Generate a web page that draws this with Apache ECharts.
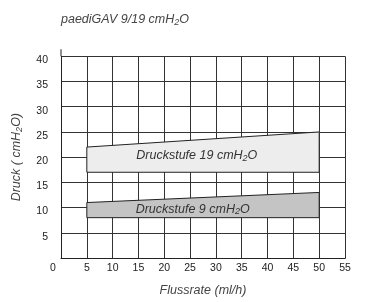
<!DOCTYPE html>
<html><head><meta charset="utf-8">
<script src="https://cdn.jsdelivr.net/npm/echarts@6/dist/echarts.min.js"></script>
<style>html,body{margin:0;padding:0;background:#fff}#c{width:376px;height:302px}</style>
</head><body><div id="c"></div>
<script>
const titleText = 'paediGAV 9/19 cmH{sub|2}O';
const xAxisName = 'Flussrate (ml/h)';
const yAxisName = 'Druck ( cmH{sub|2}O)';
const bandLabels = ['Druckstufe 19 cmH{sub|2}O', 'Druckstufe 9 cmH{sub|2}O'];
const bandXStart = [5, 5];
const bandXEnd = [50, 50];
const bandBottom = [17, 8];
const bandTopStart = [22, 11];
const bandTopEnd = [25, 13];
const bandLabelX = [26.3, 25.5];
const bandLabelY = [20.3, 9.7];
const bandFill = ['#ededed', '#c4c4c4'];
const xMin = 0, xMax = 55, xStep = 5;
const yMin = 0, yMax = 40, yStep = 5;
const xAxisStub = [[55, 0], [57, 0]];
const yAxisStub = [[0, 40], [0, 41.4]];

const FONT = '"Liberation Sans", Arial, Helvetica, sans-serif';
const subRich = (size) => ({ sub: { fontSize: size * 0.72, fontStyle: 'italic', fontFamily: FONT, color: '#444', padding: [size * 0.45, 0, 0, 0] } });

const chart = echarts.init(document.getElementById('c'), null, { renderer: 'canvas' });
chart.setOption({
  animation: false,
  backgroundColor: '#fff',
  title: {
    text: titleText, left: 56, top: 7,
    textStyle: { fontFamily: FONT, fontStyle: 'italic', fontWeight: 'normal', fontSize: 12.5, color: '#444', rich: subRich(12.5) }
  },
  grid: { left: 61, right: 31, top: 56.3, bottom: 39.3, containLabel: false },
  xAxis: {
    type: 'value', min: xMin, max: xMax, interval: xStep,
    name: xAxisName, nameLocation: 'middle', nameGap: 26,
    nameTextStyle: { fontFamily: FONT, fontStyle: 'italic', fontSize: 12.5, color: '#444' },
    axisLine: { show: true, lineStyle: { color: '#222', width: 1 } },
    axisTick: { show: false },
    axisLabel: {
      margin: 5, fontFamily: FONT, fontSize: 10.5, color: '#222',
      formatter: v => v === 0 ? '{z|0}' : String(v),
      rich: { z: { padding: [0, 16, 0, 0], fontFamily: FONT, fontSize: 10.5, color: '#222' } }
    },
    splitLine: { show: true, lineStyle: { color: '#333', width: 1 } }
  },
  yAxis: {
    type: 'value', min: yMin, max: yMax, interval: yStep,
    name: yAxisName, nameLocation: 'middle', nameGap: 37,
    nameTextStyle: { fontFamily: FONT, fontStyle: 'italic', fontSize: 12.5, color: '#444', rich: subRich(12.5) },
    axisLine: { show: true, lineStyle: { color: '#222', width: 1 } },
    axisTick: { show: false },
    axisLabel: { margin: 13, verticalAlign: 'top', lineHeight: 8, fontFamily: FONT, fontSize: 10.5, color: '#222', formatter: v => v === 0 ? '' : String(v) },
    splitLine: { show: true, lineStyle: { color: '#333', width: 1 } }
  },
  series: [
    {
      type: 'custom',
      data: bandLabels.map((_, i) => [bandXStart[i], bandXEnd[i], bandBottom[i], bandTopStart[i], bandTopEnd[i], bandLabelX[i], bandLabelY[i]]),
      renderItem: function (params, api) {
        const i = params.dataIndex;
        const p1 = api.coord([api.value(0), api.value(2)]);
        const p2 = api.coord([api.value(1), api.value(2)]);
        const p3 = api.coord([api.value(1), api.value(4)]);
        const p4 = api.coord([api.value(0), api.value(3)]);
        const lp = api.coord([api.value(5), api.value(6)]);
        return {
          type: 'group',
          children: [
            { type: 'polygon', shape: { points: [p1, p2, p3, p4] }, style: { fill: bandFill[i], stroke: '#222', lineWidth: 1 } },
            { type: 'text', x: lp[0], y: lp[1], style: {
                text: bandLabels[i], align: 'center', verticalAlign: 'middle',
                fontFamily: FONT, fontStyle: 'italic', fontSize: 12.5, fill: '#333',
                rich: { sub: { fontSize: 9, fontStyle: 'italic', fontFamily: FONT, fill: '#333', padding: [5.5, 0, 0, 0] } }
              } }
          ]
        };
      },
      z: 3
    },
    { type: 'line', data: xAxisStub, symbol: 'none', clip: false, lineStyle: { color: '#222', width: 1 }, z: 4 },
    { type: 'line', data: yAxisStub, symbol: 'none', clip: false, lineStyle: { color: '#222', width: 1 }, z: 4 }
  ]
});
</script></body></html>
